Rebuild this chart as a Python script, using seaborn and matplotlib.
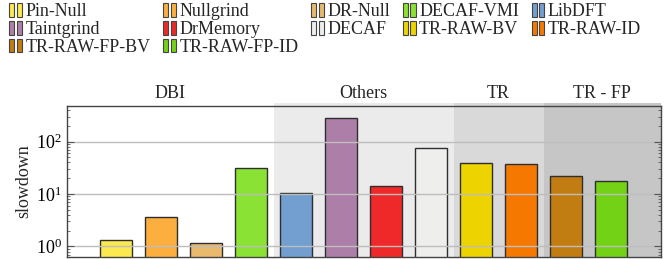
import matplotlib
matplotlib.use("Agg")
import matplotlib.pyplot as plt
import seaborn as sns
import pandas as pd
from matplotlib.patches import Patch
from matplotlib.legend_handler import HandlerTuple

# data
tools = ["Pin-Null", "Nullgrind", "DR-Null", "DECAF-VMI", "LibDFT", "Taintgrind",
         "DrMemory", "DECAF", "TR-RAW-BV", "TR-RAW-ID", "TR-RAW-FP-BV", "TR-RAW-FP-ID"]
slowdown = [1.3, 3.7, 1.14, 32, 10.6, 280, 14.2, 75, 39, 37, 22.4, 18]
colors = ["#fce94f", "#fcaf3e", "#e9b96e", "#8ae234", "#729fcf", "#ad7fa8",
          "#ef2929", "#eeeeec", "#edd400", "#f57900", "#c17d11", "#73d216"]
groups = ["DBI", "Others", "TR", "TR - FP"]
group_sizes = [4, 4, 2, 2]
group_shades = [None, "#ebebeb", "#d9d9d9", "#c6c6c6"]

df = pd.DataFrame({"tool": tools, "slowdown": slowdown})

sns.set_theme(style="ticks")
plt.rcParams["font.family"] = ["Liberation Serif", "DejaVu Serif"]
plt.rcParams["mathtext.fontset"] = "stix"
FS = 13

fig = plt.figure(figsize=(6.68, 2.59), dpi=100)
ax = fig.add_axes([0.1003, 0.008, 0.8892, 0.583])

# shaded group backgrounds
start = -0.5
bounds = []
for n in group_sizes:
    bounds.append((start, start + n))
    start += n
xmin, xmax = -1.09, 12.11
bounds[0] = (xmin, bounds[0][1])
bounds[-1] = (bounds[-1][0], xmax)
for (a, b), shade, name in zip(bounds, group_shades, groups):
    if shade:
        ax.axvspan(a, b, ymin=0, ymax=1.02, color=shade, lw=0, zorder=0, clip_on=False)
    ax.text((a + b) / 2, 1.085, name, transform=ax.get_xaxis_transform(),
            ha="center", va="center", fontsize=FS)

sns.barplot(data=df, x="tool", y="slowdown", hue="tool", order=tools, hue_order=tools,
            palette=colors, saturation=1, dodge=False, legend=False, width=0.71,
            edgecolor="#2e2e2e", linewidth=1.0, ax=ax, zorder=2)

ax.set_yscale("log")
ax.set_ylim(10 ** -0.2, 10 ** 2.68)
ax.set_xlim(xmin, xmax)
ax.set_xticks([])
ax.set_xlabel("")
ax.set_ylabel("slowdown", fontsize=FS, labelpad=3)
ax.yaxis.grid(True, which="major", color="#bdbdbd", lw=1.0, zorder=3)
ax.set_axisbelow(False)
ax.tick_params(axis="y", which="both", direction="in", right=True, labelsize=FS,
               colors="#555555", labelcolor="black")
ax.tick_params(axis="y", which="major", length=5, width=0.8)
ax.tick_params(axis="y", which="minor", length=2.5, width=0.6)
for s in ax.spines.values():
    s.set_color("#444444")
    s.set_linewidth(1.0)
    s.set_zorder(5)

# legend in row-major order, 5 columns, two-tone markers
ncol = 5
handles = [(Patch(facecolor=c, edgecolor="#444444", lw=0.8),
            Patch(facecolor=c, edgecolor="#444444", lw=0.8)) for c in colors]
order = [i + j * ncol for i in range(ncol) for j in range(3) if i + j * ncol < len(tools)]
fig.legend([handles[k] for k in order], [tools[k] for k in order], ncol=ncol,
           handler_map={tuple: HandlerTuple(ndivide=None, pad=0.12)},
           loc="upper left", bbox_to_anchor=(0.003, 1.015), frameon=False,
           fontsize=FS, handlelength=0.7, handleheight=0.75, handletextpad=0.2,
           columnspacing=0.7, labelspacing=0.05, borderaxespad=0)

fig.savefig("out.png", dpi=100)
